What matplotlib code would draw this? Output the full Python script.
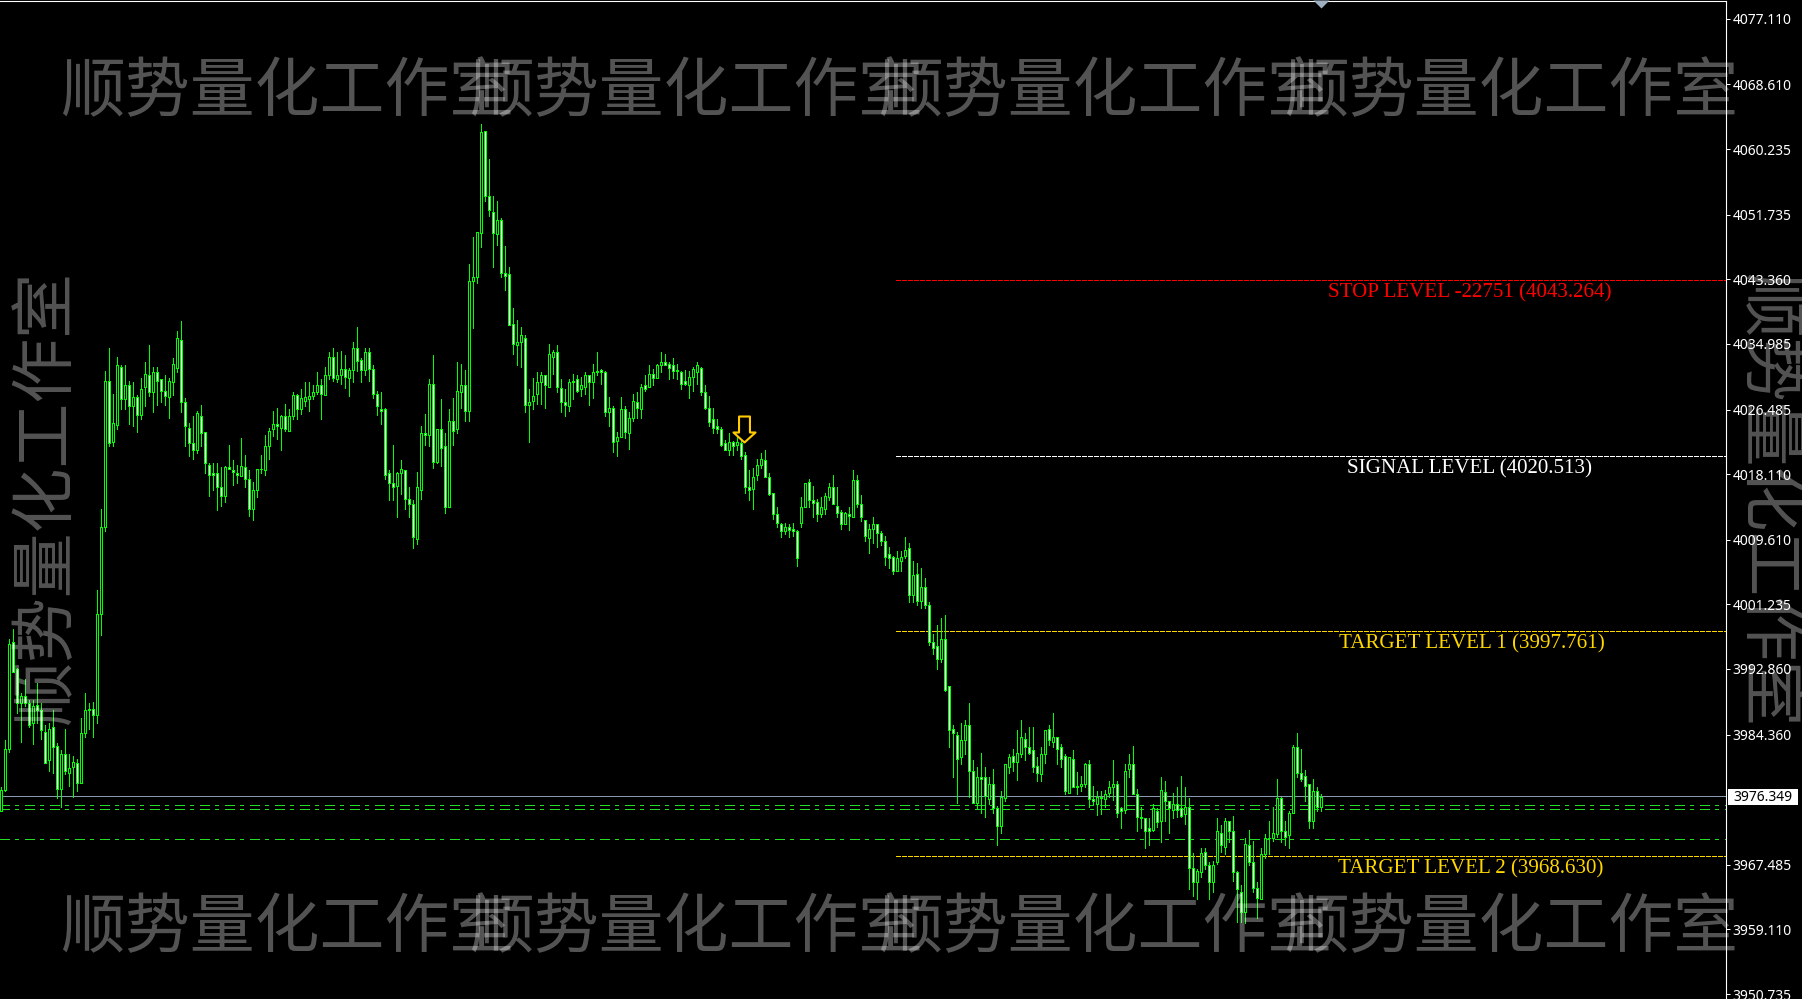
import numpy as np
import matplotlib
matplotlib.use("Agg")
import matplotlib.pyplot as plt
from matplotlib.path import Path
from matplotlib.patches import Rectangle

plt.rcParams['lines.scale_dashes'] = False

highs = [
3977.6,3983.6,3996.8,3998.0,3993.0,3989.8,3991.5,3988.9,3988.9,3991.0,3988.4,3985.6,3985.9,3987.6,3983.3,3982.4,3985.1,3981.8,3981.6,3981.2,3986.5,3989.7,3988.4,3988.6,4003.1,
4013.6,4031.5,4034.4,4028.5,4033.3,4032.3,4032.2,4030.2,4030.1,4028.4,4030.6,4032.6,4034.9,4032.0,4032.0,4030.5,4031.0,4030.6,4033.2,4036.6,4037.9,4028.0,4024.8,4025.7,4026.3,
4027.1,4023.6,4019.5,4019.5,4019.6,4019.0,4019.2,4021.9,4019.9,4019.3,4022.8,4020.6,4018.7,4017.1,4018.8,4020.6,4023.2,4024.1,4026.3,4026.7,4025.8,4027.2,4026.6,4028.8,4028.5,
4029.1,4030.0,4030.0,4029.6,4031.4,4030.4,4032.0,4033.9,4034.4,4034.0,4034.1,4033.5,4031.9,4035.3,4037.2,4033.1,4034.5,4034.4,4032.3,4028.9,4028.8,4026.7,4018.6,4021.9,4018.4,
4020.0,4018.7,4016.4,4014.7,4018.4,4024.4,4025.9,4030.5,4033.5,4024.0,4027.8,4023.4,4026.6,4028.0,4032.7,4032.4,4031.6,4045.3,4048.8,4049.5,4063.5,4062.6,4058.9,4054.1,4053.5,
4051.3,4047.7,4045.0,4039.6,4038.1,4037.2,4036.2,4029.1,4030.6,4031.3,4031.4,4031.0,4035.0,4034.2,4034.8,4030.5,4029.2,4030.4,4031.1,4030.9,4030.7,4031.4,4031.0,4032.4,4034.0,
4031.8,4031.5,4028.1,4027.0,4023.6,4028.1,4026.9,4026.2,4028.5,4028.7,4029.8,4031.0,4032.3,4031.8,4032.4,4034.0,4033.7,4032.6,4033.1,4032.4,4031.5,4031.6,4031.5,4032.0,4032.6,
4032.0,4029.6,4028.3,4026.7,4025.3,4024.2,4022.6,4023.4,4022.4,4023.0,4022.6,4021.0,4018.7,4018.9,4020.1,4020.8,4021.2,4018.2,4015.7,4013.9,4011.8,4011.8,4011.7,4011.8,4010.9,
4015.1,4017.0,4017.5,4016.6,4014.9,4015.1,4015.7,4016.9,4018.0,4016.5,4013.5,4013.2,4013.8,4018.6,4018.0,4015.4,4012.2,4011.7,4012.6,4011.6,4010.8,4010.1,4008.7,4007.5,4008.2,
4008.1,4010.0,4009.2,4006.8,4006.6,4005.9,4004.7,4001.5,3997.4,3998.6,3999.5,3999.9,3990.6,3985.6,3984.7,3985.9,3986.2,3988.5,3981.1,3980.1,3982.0,3980.2,3978.9,3979.9,3975.1,
3977.0,3980.5,3981.9,3982.5,3985.0,3986.3,3984.5,3985.4,3985.3,3981.5,3982.8,3985.0,3985.6,3987.1,3984.1,3983.2,3981.8,3981.5,3982.4,3979.5,3979.0,3980.7,3981.1,3977.7,3977.0,
3977.1,3977.2,3978.3,3981.0,3978.4,3975.0,3980.6,3981.8,3982.9,3977.3,3975.0,3973.6,3973.5,3975.3,3974.9,3978.9,3978.3,3975.7,3976.8,3977.6,3979.0,3977.6,3976.1,3969.0,3967.0,
3969.7,3969.7,3967.9,3968.0,3973.5,3972.7,3973.6,3973.2,3973.8,3966.7,3964.8,3971.0,3972.0,3970.6,3965.2,3969.6,3971.5,3973.1,3975.0,3978.6,3976.3,3973.2,3974.4,3983.0,3984.5,3982.5,3979.8,3977.9,3978.6,3977.6,3976.7,
]

body_tops = [
3977.2,3982.5,3996.1,3996.3,3992.8,3989.3,3989.3,3988.5,3988.0,3988.2,3987.5,3984.7,3985.1,3985.3,3982.9,3981.8,3981.9,3980.0,3980.8,3980.7,3984.6,3987.5,3987.7,3987.7,4000.0,
4011.2,4030.2,4030.2,4024.8,4032.3,4032.0,4029.6,4029.7,4028.1,4028.1,4029.2,4031.1,4030.9,4031.4,4031.4,4030.4,4028.9,4030.2,4032.4,4035.8,4035.5,4027.5,4024.1,4022.1,4026.0,
4025.7,4023.6,4019.3,4018.3,4018.3,4016.4,4019.1,4019.1,4018.7,4018.3,4019.2,4019.1,4017.5,4016.0,4018.8,4018.8,4021.8,4023.7,4024.6,4024.6,4025.6,4025.6,4025.7,4028.4,4028.4,
4028.0,4028.1,4028.3,4028.7,4029.7,4029.7,4030.9,4033.3,4033.3,4030.9,4031.8,4031.8,4031.6,4034.5,4034.5,4032.9,4033.9,4033.9,4031.8,4028.5,4026.5,4026.6,4018.2,4017.0,4018.2,
4018.8,4018.7,4014.9,4014.3,4016.4,4023.5,4023.5,4029.8,4029.8,4024.0,4024.0,4021.7,4025.0,4025.0,4028.9,4029.7,4029.7,4043.1,4043.6,4049.5,4062.5,4062.6,4054.1,4052.1,4051.0,
4051.1,4044.2,4044.0,4037.6,4035.3,4036.2,4035.8,4027.5,4028.3,4030.0,4030.9,4030.9,4033.7,4034.0,4034.0,4029.3,4027.4,4030.1,4030.2,4030.4,4029.6,4030.9,4030.9,4031.4,4031.5,
4031.6,4031.4,4026.7,4026.7,4022.9,4026.6,4026.6,4025.4,4027.6,4027.4,4029.4,4029.6,4031.1,4031.1,4032.3,4032.7,4032.7,4032.4,4032.2,4031.6,4031.4,4030.2,4030.7,4031.8,4032.2,
4031.9,4028.7,4026.7,4025.3,4024.3,4024.0,4022.2,4022.3,4022.3,4022.3,4022.2,4020.6,4016.5,4017.8,4019.3,4020.1,4019.9,4017.8,4015.7,4013.0,4011.7,4011.3,4011.3,4011.0,4010.8,
4013.9,4017.0,4017.1,4014.8,4014.5,4013.8,4015.3,4016.5,4016.5,4014.0,4013.2,4013.1,4013.0,4017.4,4017.4,4014.2,4012.2,4011.0,4011.6,4011.6,4010.5,4009.4,4007.7,4007.4,4007.2,
4007.4,4008.3,4008.5,4005.1,4005.2,4003.5,4003.5,4001.2,3996.3,3995.9,3996.7,3996.7,3990.6,3985.1,3984.3,3983.6,3985.6,3985.6,3979.7,3978.8,3978.9,3978.9,3978.0,3978.0,3974.9,
3976.3,3980.5,3981.4,3981.6,3982.0,3984.1,3983.8,3982.8,3982.3,3980.3,3981.9,3984.9,3985.1,3984.0,3984.0,3982.8,3981.6,3981.5,3981.2,3977.7,3978.0,3980.5,3980.5,3976.0,3976.3,
3976.3,3976.7,3977.6,3977.9,3978.0,3974.8,3979.7,3980.6,3980.6,3976.7,3973.7,3973.5,3972.2,3974.8,3974.5,3977.2,3976.9,3975.7,3975.4,3975.3,3974.8,3975.0,3975.0,3967.1,3966.7,
3969.0,3969.2,3967.5,3967.5,3971.9,3971.6,3973.1,3973.2,3971.9,3966.6,3964.0,3970.2,3970.1,3967.9,3964.5,3968.9,3971.0,3971.0,3971.6,3976.2,3976.2,3971.8,3974.2,3982.7,3982.7,3979.4,3979.0,3977.9,3977.0,3977.1,3976.3,
]

body_bottoms = [
3974.4,3977.2,3982.5,3992.5,3988.5,3988.4,3988.5,3985.6,3985.8,3987.5,3985.0,3980.7,3981.0,3982.8,3977.3,3977.3,3979.7,3979.4,3980.1,3978.1,3978.1,3984.5,3987.5,3986.9,3986.9,
4000.0,4011.2,4022.2,4022.3,4024.5,4027.8,4027.9,4026.9,4027.0,4025.8,4025.8,4029.4,4028.7,4028.7,4030.2,4028.9,4028.3,4028.1,4030.0,4031.9,4027.5,4024.3,4022.1,4021.2,4021.2,
4023.5,4019.5,4018.0,4018.0,4016.4,4015.3,4015.3,4018.8,4018.4,4018.0,4017.9,4017.5,4013.6,4013.6,4016.0,4018.8,4018.7,4021.7,4024.0,4024.4,4024.1,4023.9,4023.7,4025.7,4026.6,
4026.6,4027.6,4027.9,4028.3,4028.8,4028.5,4028.4,4030.9,4030.6,4030.4,4030.9,4030.7,4030.6,4031.6,4032.8,4031.6,4031.6,4031.8,4028.5,4026.9,4026.3,4018.0,4016.9,4016.5,4016.6,
4018.2,4014.9,4014.3,4010.0,4009.7,4016.1,4023.2,4023.2,4019.7,4019.7,4021.5,4013.8,4013.8,4023.7,4023.9,4028.7,4026.3,4026.3,4043.2,4043.6,4049.3,4054.2,4052.3,4049.4,4049.2,
4044.2,4043.8,4037.4,4035.0,4034.8,4035.3,4027.1,4027.1,4027.6,4028.5,4030.0,4029.6,4029.4,4033.3,4029.4,4027.4,4027.1,4026.9,4030.1,4028.9,4029.2,4029.4,4030.0,4030.0,4031.4,
4031.3,4026.2,4026.1,4022.3,4022.4,4022.9,4023.6,4023.5,4025.4,4026.7,4026.6,4029.2,4029.4,4030.6,4030.6,4032.2,4032.2,4031.9,4031.5,4031.5,4029.8,4029.8,4029.6,4030.7,4031.4,
4028.7,4026.7,4024.9,4024.1,4023.9,4021.9,4021.3,4021.2,4021.8,4021.9,4020.4,4016.4,4016.1,4016.2,4018.0,4019.3,4017.8,4015.6,4013.0,4011.8,4010.7,4010.7,4010.9,4010.8,4007.3,
4011.8,4013.8,4014.7,4014.4,4013.0,4013.0,4013.6,4015.1,4014.3,4013.1,4011.6,4011.7,4012.7,4012.6,4014.3,4012.5,4010.1,4009.9,4011.0,4010.5,4009.5,4007.4,4007.3,4005.6,4005.6,
4006.9,4007.5,4002.4,4002.5,4001.7,4001.7,4001.2,3996.3,3995.6,3994.1,3994.1,3990.2,3985.0,3984.5,3981.2,3981.4,3983.6,3979.7,3975.5,3975.5,3978.6,3976.4,3976.0,3974.9,3972.5,
3972.5,3976.2,3980.2,3980.8,3980.8,3981.9,3982.7,3982.0,3980.1,3979.4,3979.3,3981.9,3983.6,3983.4,3982.5,3981.2,3977.1,3976.8,3977.6,3977.6,3977.7,3977.9,3976.0,3975.7,3975.4,
3976.2,3976.0,3976.8,3977.6,3974.2,3974.5,3974.6,3979.9,3976.7,3973.7,3973.5,3971.8,3971.9,3972.0,3973.0,3973.1,3975.7,3974.8,3974.6,3974.6,3973.8,3974.1,3967.1,3965.2,3965.2,
3966.5,3967.5,3965.3,3965.3,3967.8,3970.0,3969.8,3971.9,3966.6,3964.3,3961.4,3961.4,3967.9,3964.5,3963.2,3963.1,3968.9,3970.9,3970.9,3971.5,3971.8,3971.1,3971.3,3974.2,3979.4,3978.6,3977.7,3973.1,3973.1,3975.0,3975.0,
]

lows = [
3974.4,3977.1,3982.1,3992.5,3987.2,3983.4,3988.0,3985.3,3983.1,3985.9,3983.8,3980.7,3979.7,3979.4,3976.1,3975.0,3979.2,3977.7,3976.3,3977.0,3978.1,3984.0,3985.1,3984.0,3985.8,
3997.2,4010.7,4021.7,4021.7,4023.9,4026.6,4026.6,4024.6,4024.4,4023.6,4025.2,4027.0,4028.3,4026.2,4027.1,4027.5,4027.1,4025.4,4028.4,4031.4,4026.2,4021.8,4020.4,4020.1,4020.8,
4021.7,4018.3,4015.3,4016.1,4013.5,4014.0,4014.5,4018.8,4016.7,4016.9,4017.9,4016.4,4012.7,4012.2,4015.2,4018.3,4018.0,4020.1,4023.1,4022.7,4021.3,4023.7,4023.7,4025.2,4025.2,
4025.9,4027.0,4026.3,4027.8,4028.5,4025.3,4028.4,4030.5,4030.2,4030.0,4029.8,4029.3,4028.3,4030.0,4031.5,4030.1,4030.9,4030.2,4028.0,4025.8,4024.6,4017.5,4014.7,4014.8,4012.6,
4015.6,4013.6,4012.5,4008.6,4009.1,4014.9,4021.9,4021.8,4018.9,4019.5,4019.2,4013.1,4013.8,4021.9,4023.5,4026.7,4025.0,4025.0,4037.1,4042.9,4047.6,4053.5,4051.6,4044.9,4047.8,
4043.7,4042.0,4037.4,4033.7,4032.2,4032.0,4026.1,4022.3,4026.6,4027.2,4027.2,4026.7,4029.4,4031.1,4028.8,4026.1,4025.7,4026.3,4027.8,4028.7,4028.3,4028.5,4027.1,4028.0,4031.0,
4029.8,4025.7,4024.3,4021.0,4020.5,4022.9,4022.8,4021.4,4025.0,4025.4,4025.4,4028.9,4029.4,4029.7,4030.6,4031.4,4032.2,4030.4,4030.6,4030.4,4029.2,4029.6,4028.0,4028.9,4029.8,
4028.4,4026.6,4024.4,4023.4,4023.4,4021.8,4021.2,4020.6,4020.6,4021.3,4020.1,4015.7,4014.7,4013.6,4017.4,4018.9,4017.7,4015.4,4012.3,4011.2,4010.0,4010.4,4010.0,4010.1,4006.2,
4011.3,4013.8,4013.8,4012.6,4012.1,4012.5,4013.0,4014.8,4014.2,4012.5,4011.0,4011.6,4010.9,4012.5,4013.8,4012.1,4009.4,4007.9,4009.2,4008.7,4008.9,4006.4,4006.0,4005.2,4005.5,
4005.5,4007.2,4001.6,4001.5,4001.2,4000.7,4000.8,3996.0,3994.8,3992.9,3993.8,3990.0,3982.8,3978.8,3975.5,3980.6,3981.8,3976.3,3975.5,3974.8,3974.2,3973.7,3975.3,3974.2,3970.1,
3971.6,3975.7,3979.4,3979.7,3978.5,3981.5,3981.0,3981.9,3979.5,3978.4,3978.4,3980.7,3983.0,3982.8,3980.6,3980.1,3976.7,3976.8,3977.6,3976.6,3977.0,3977.6,3975.0,3975.3,3974.0,
3974.1,3975.0,3976.3,3975.9,3973.7,3972.3,3974.2,3978.8,3976.7,3971.8,3972.3,3969.6,3970.1,3971.8,3972.4,3970.4,3973.2,3971.6,3973.5,3973.7,3973.7,3972.8,3964.4,3963.5,3963.1,
3965.9,3967.0,3963.1,3964.0,3967.6,3969.1,3968.9,3970.5,3965.4,3960.1,3960.1,3960.0,3967.5,3964.0,3960.6,3963.1,3968.3,3968.9,3970.6,3971.1,3970.4,3970.0,3969.6,3974.2,3978.9,3978.4,3975.7,3972.3,3972.3,3974.5,3974.5,
]

bar_direction = (
    "UUUDDUDDUDDDUDDUDUUDUUUDU"
    "UUDUUDUDUDUUDUDDDUUUDDDDU"
    "DDDDDDUDDDUDDUUDUUUDUDUUD"
    "UUUUUDUUDUUDUUDDUDDDDDDDU"
    "UDDDUUDUDUDDUDUUDUUUUDDDU"
    "DDDDUUDUUUUDUUDDDUUDUUDUU"
    "DDUDUUDUUDUDUDUUDDDDDDUUU"
    "DDDDDDDUDUDDDUUUDDDDDUDDD"
    "UUDDDUUUDDDUDUDDDUUDDDDDU"
    "UUDUDUDDDDUDDDDUUDDUDDUDD"
    "UUUDUUDDDDUUDUDDDUDDUUDDU"
    "DUUUDDUUDDDDDUDUDDUDDUDDU"
    "UDDUUDUDDDDUDDDUUDUUDDUUDDDDUDU"
)

y_ticks = [4077.110, 4068.610, 4060.235, 4051.735, 4043.360, 4034.985, 4026.485, 4018.110,
           4009.610, 4001.235, 3992.860, 3984.360, 3967.485, 3959.110, 3950.735]
current_price = 3976.349
ma_levels = [3975.19, 3974.67, 3970.78]
level_prices = [4043.264, 4020.513, 3997.761, 3968.630]
level_names = ["STOP LEVEL -22751 (4043.264)", "SIGNAL LEVEL (4020.513)",
               "TARGET LEVEL 1 (3997.761)", "TARGET LEVEL 2 (3968.630)"]
level_colors = ["#ff0000", "#ffffff", "#ffd700", "#ffd700"]
level_start_bar = 223.8
level_label_bars = [367.4, 367.2, 367.9, 367.6]
signal_bar = 185.8
signal_price = 4023.9
watermark = "顺势量化工作室"

W, H = 1802, 999
AXW = 1726.0
GREEN = "#00ff00"

fig = plt.figure(figsize=(W / 100, H / 100), dpi=100, facecolor="black")
ax = fig.add_axes([0, 0, AXW / W, 998 / H], facecolor="black")
ax.set_xlim(-0.125, -0.125 + AXW / 4)
ax.set_ylim(3950.09, 4079.43)
xmin, xmax = ax.get_xlim()

# horizontal lines behind the candles
ax.plot([xmin, xmax], [current_price] * 2, color="#8a9bb0", lw=0.72, zorder=1, antialiased=False)
ma_style = (0, (6.5, 4.0, 2.2, 4.6))
for lvl in ma_levels:
    ax.plot([xmin, xmax], [lvl, lvl], color="#22dd22", lw=0.72, ls=ma_style, zorder=1, antialiased=False)
for price, name, col, lb in zip(level_prices, level_names, level_colors, level_label_bars):
    ax.plot([level_start_bar, xmax], [price, price], color=col, lw=0.72,
            ls=(0, (2.9, 1.44)), zorder=1, antialiased=False)
    ax.annotate(name, xy=(lb, price), xytext=(0, -9.4), textcoords="offset points",
                ha="center", va="center", color=col, family="Liberation Serif", fontsize=15.1, zorder=5)

# candles
x = np.arange(len(highs))
ax.vlines(x, lows, highs, color=GREEN, lw=0.72, zorder=2, antialiased=False)
h = np.array(body_tops) - np.array(body_bottoms)
fills = ["#000000" if d == "U" else "#ffffff" for d in bar_direction]
ax.bar(x, h, bottom=body_bottoms, width=0.5, color=fills, edgecolor=GREEN,
       linewidth=0.72, zorder=3, antialiased=False)

# signal arrow marker
arrow = Path([(-0.42, 1), (0.42, 1), (0.42, -0.23), (0.85, -0.23), (0, -1),
              (-0.85, -0.23), (-0.42, -0.23), (-0.42, 1)], closed=True)
ax.plot([signal_bar], [signal_price], marker=arrow, ms=18.7, mfc="none", mec="#ffcc00",
        mew=1.5, ls="none", zorder=6)

# chart-shift marker on the top edge
shift_mark = Path([(-1, 0.5), (1, 0.5), (0, -0.5), (-1, 0.5)], closed=True)
ax.plot([0.7655], [1 - 3 / 998], marker=shift_mark, ms=11.5, color="#9fb0c0", mec="none",
        transform=ax.transAxes, clip_on=False, zorder=6)

# axes styling
for s in ("left", "bottom"):
    ax.spines[s].set_visible(False)
for s in ("top", "right"):
    ax.spines[s].set_color("white")
    ax.spines[s].set_linewidth(0.8)
ax.set_xticks([])
ax.yaxis.tick_right()
ax.set_yticks(y_ticks)
ax.set_yticklabels([f"{v:.3f}" for v in y_ticks], family="Noto Sans", fontsize=10, color="white")
ax.tick_params(axis="y", length=2.6, width=0.72, color="white", pad=2)

# current-price box
trans = ax.get_yaxis_transform()
ax.add_patch(Rectangle((1728 / AXW, current_price - 1.15), 70 / AXW, 2.1, facecolor="white",
                       edgecolor="none", transform=trans, clip_on=False, zorder=7))
ax.text(1733 / AXW, current_price - 0.15, f"{current_price:.3f}", color="black", family="Noto Sans",
        fontsize=10, va="center", ha="left", transform=trans, clip_on=False, zorder=8)

# watermark
wm = dict(color="white", alpha=0.33, family="Noto Sans CJK SC", fontsize=46.7, ha="center",
          va="center", zorder=20)
for cx in (287, 696, 1105, 1511):
    fig.text(cx / W, 1 - 93 / H, watermark, **wm)
    fig.text(cx / W, 1 - 929 / H, watermark, **wm)
fig.text(47 / W, 1 - 498 / H, watermark, rotation=90, **wm)
fig.text(1767 / W, 1 - 500 / H, watermark, rotation=-90, **wm)

fig.savefig("out.png", dpi=100, facecolor="black")
